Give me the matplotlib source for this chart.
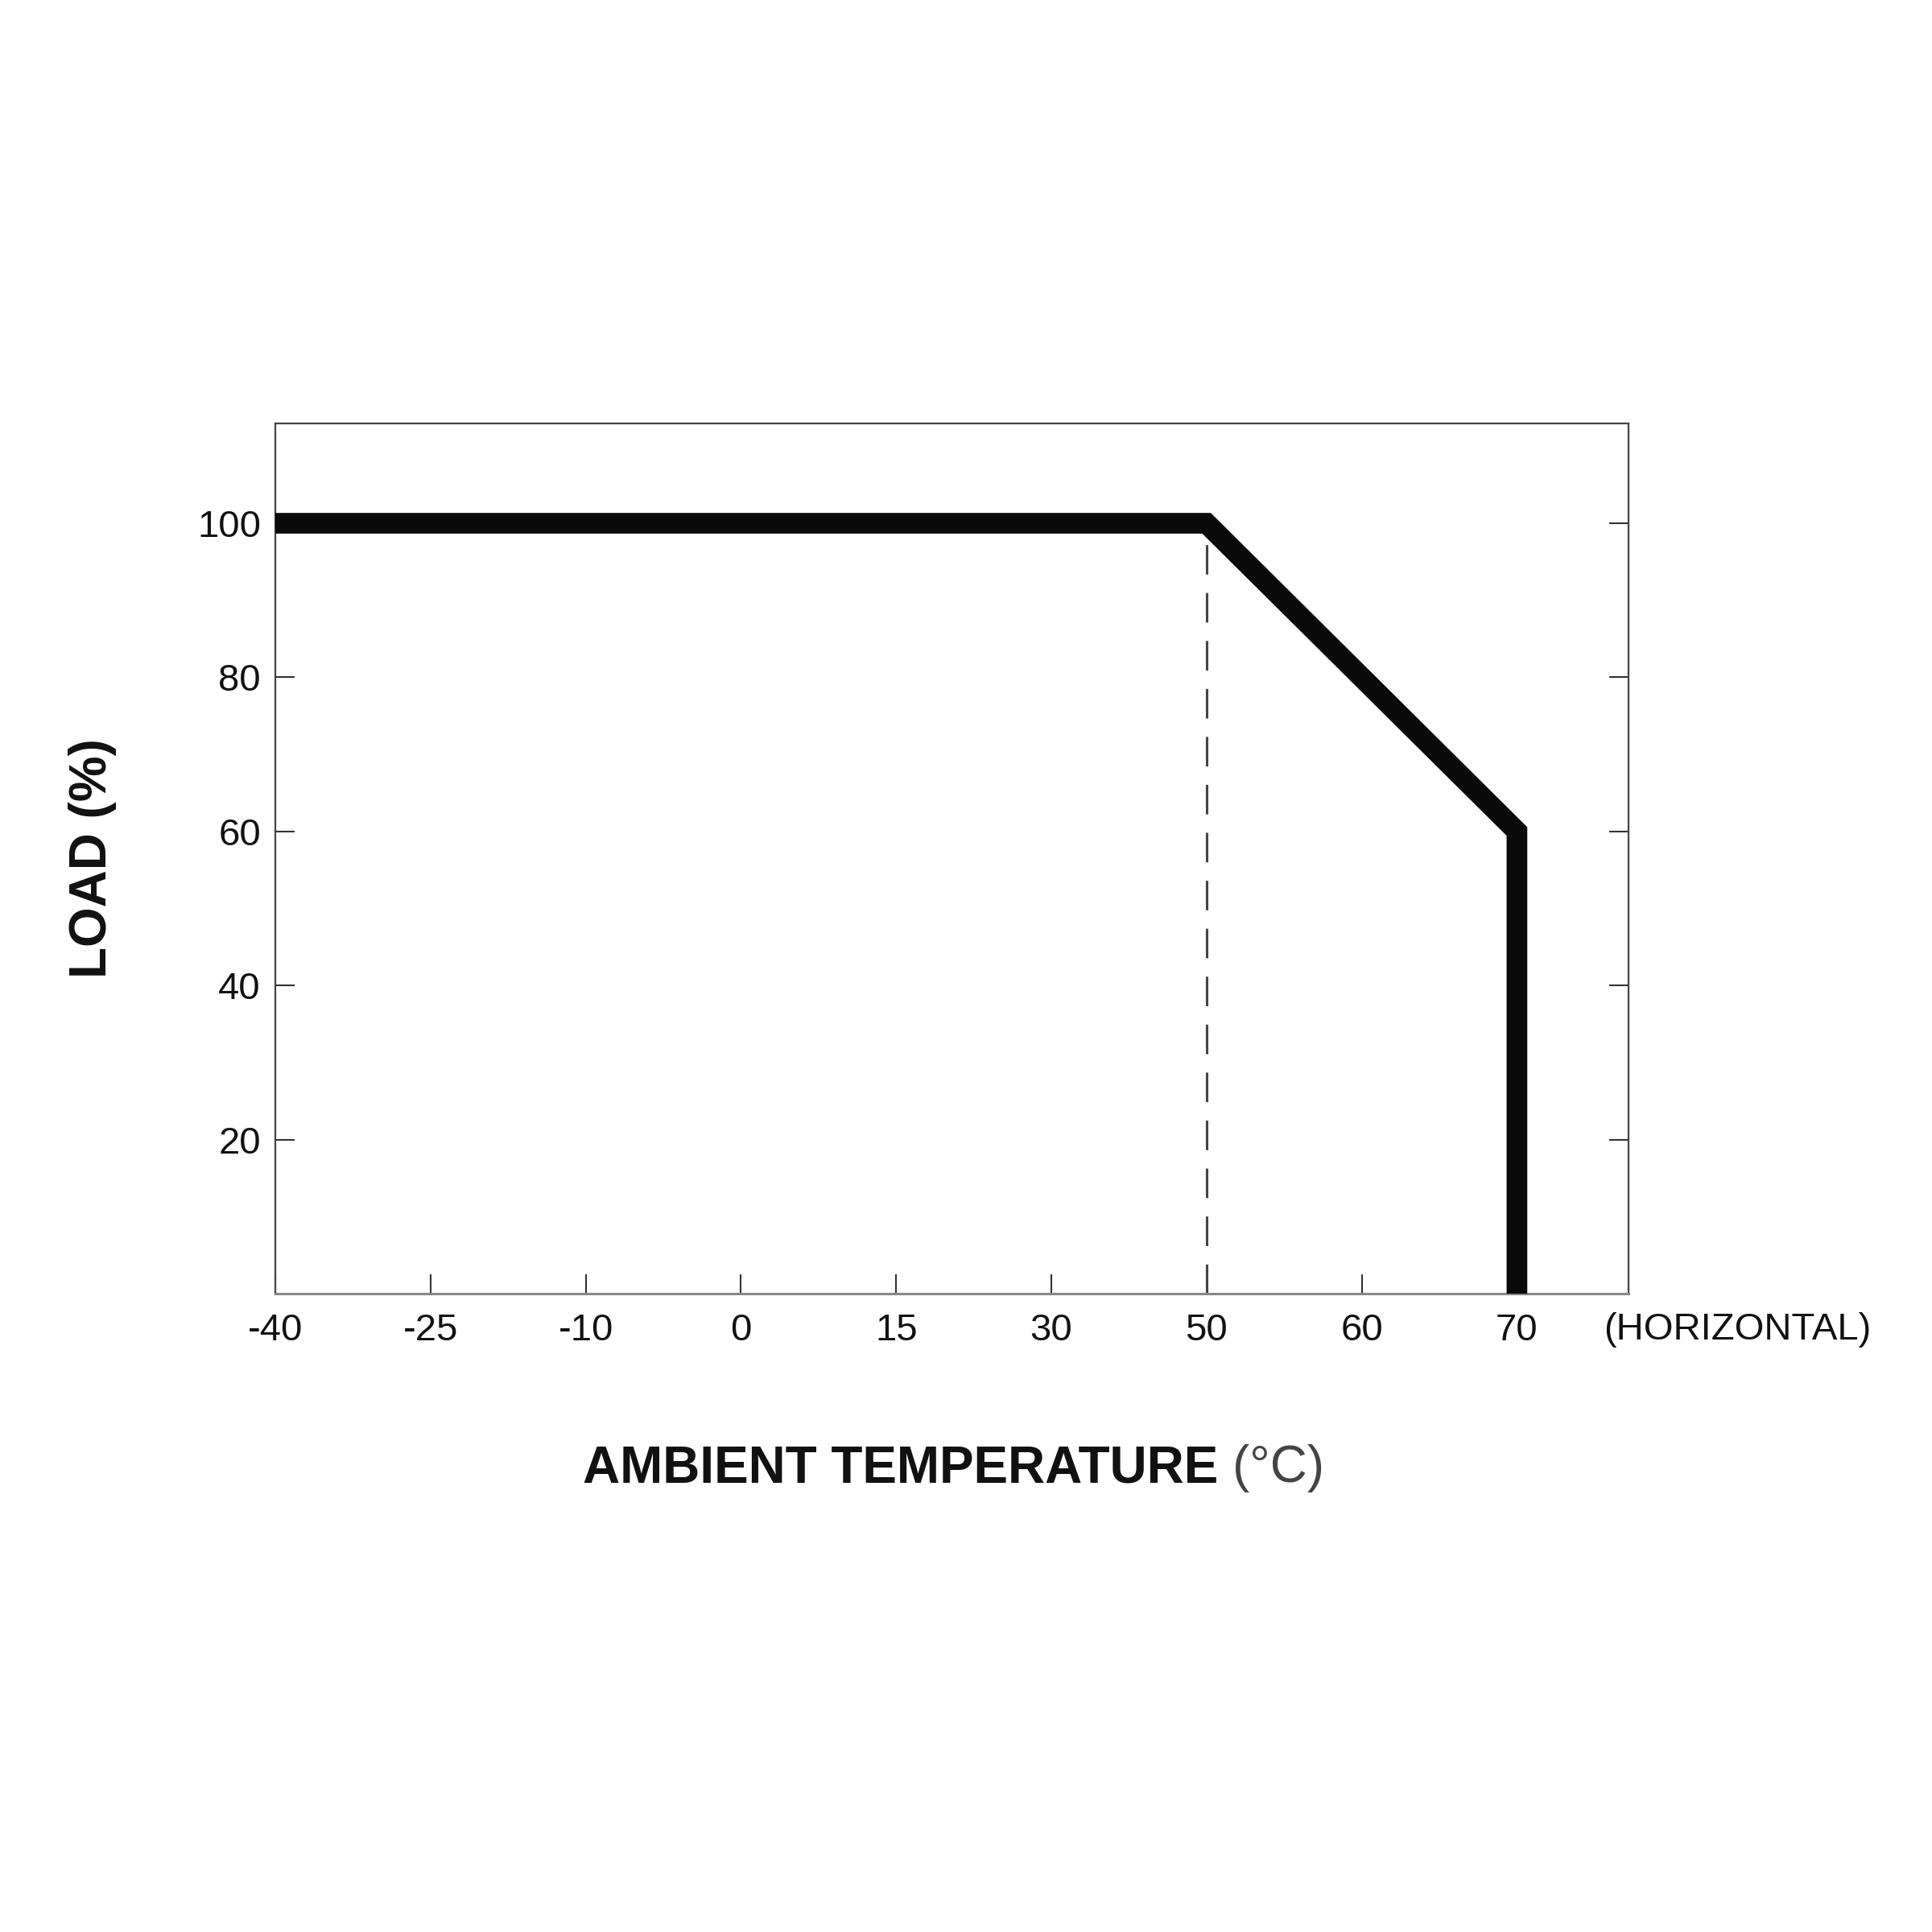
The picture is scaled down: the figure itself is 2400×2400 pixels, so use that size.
import matplotlib
matplotlib.use("Agg")
import matplotlib.pyplot as plt
from matplotlib import font_manager

# Data
temp_labels = ["-40", "-25", "-10", "0", "15", "30", "50", "60", "70"]
curve_temp = ["-40", "50", "70", "70"]
curve_load = [100, 100, 60, 0]
load_ticks = [20, 40, 60, 80, 100]
dash_temp = "50"
dash_load = [0, 100]

names = {f.name for f in font_manager.fontManager.ttflist}
narrow = "Liberation Sans Narrow" in names
fam = (["Liberation Sans Narrow"] if narrow else []) + ["Liberation Sans", "DejaVu Sans"]
plt.rcParams["font.family"] = fam

tick_fs = 38 if narrow else 34
lab_fs = 52 if narrow else 46

fig = plt.figure(figsize=(24, 24), dpi=100)
fig.patch.set_facecolor("white")
ax = fig.add_axes([0.1425, 0.3304, 0.8430 - 0.1425, 0.7810 - 0.3304])

pos = {lab: i for i, lab in enumerate(temp_labels)}
cx = [pos[t] for t in curve_temp]

ax.plot([pos[dash_temp]] * 2, dash_load, color="#444444", lw=2.2,
        dashes=(12, 7.5), zorder=2)
ax.plot(cx, curve_load, color="#0a0a0a", lw=18.5, solid_joinstyle="miter",
        solid_capstyle="butt", zorder=3, clip_on=False)

ax.set_xlim(0, 8.72)
ax.set_ylim(0, 113)

ax.set_xticks(range(len(temp_labels)))
ax.set_xticklabels(temp_labels)
ax.set_yticks(load_ticks)
ax.set_yticklabels([str(v) for v in load_ticks])

ax.tick_params(axis="both", direction="in", length=17, width=1.5,
               color="#333333", labelsize=tick_fs, labelcolor="#111111", pad=13)
ax.tick_params(axis="x", pad=17)
ax.tick_params(axis="y", right=True, left=True)

for s in ["left", "right", "top"]:
    ax.spines[s].set_color("#444444")
    ax.spines[s].set_linewidth(1.6)
ax.spines["bottom"].set_color("#888888")
ax.spines["bottom"].set_linewidth(2.2)

ax.text(2158 / 2400, 1 - 1652 / 2400, "(HORIZONTAL)", transform=fig.transFigure,
        ha="center", va="center", fontsize=tick_fs, color="#111111")

# x label: bold part + regular "(°C)", centred together
y_lab = 1 - 1824 / 2400
t1 = fig.text(0, y_lab, "AMBIENT TEMPERATURE ", ha="left", va="center",
              fontsize=lab_fs, fontweight="bold", color="#111111")
t2 = fig.text(0, y_lab, "(°C)", ha="left", va="center",
              fontsize=lab_fs, color="#444444")
fig.canvas.draw()
r = fig.canvas.get_renderer()
w1 = t1.get_window_extent(r).width
w2 = t2.get_window_extent(r).width
W = fig.bbox.width
cx_lab = 0.4936 * W
x0 = cx_lab - (w1 + w2) / 2
t1.set_x(x0 / W)
t2.set_x((x0 + w1) / W)

fig.text(115 / 2400, 1 - 1066 / 2400, "LOAD (%)", rotation=90, ha="center",
         va="center", fontsize=lab_fs, fontweight="bold", color="#111111")

fig.savefig("out.png", dpi=100, facecolor="white")
